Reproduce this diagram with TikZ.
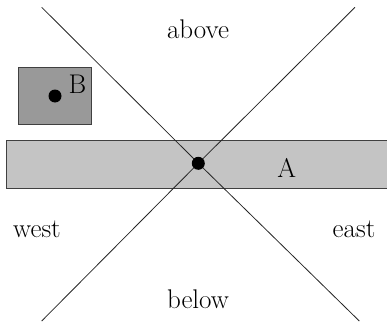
\documentclass[tikz,border=0pt]{standalone}
\begin{document}
\begin{tikzpicture}[x=10pt, y=10pt,
		lbl/.style={font=\rmfamily\fontsize{27}{29}\selectfont, inner sep=0pt},
		crossline/.style={line width=0.8pt, black!85},
		dot/.style={circle, fill=black, inner sep=0pt, minimum size=13pt}]
	\useasboundingbox (0,0) rectangle (38.7,32.2);

	% Region A
	\draw[line width=0.9pt, draw=black!75, fill=black!23] (0.67,13.37) rectangle (39.2,18.2);
	\node[lbl] (labA) at (28.67,15.45) {A};

	% Region B
	\draw[line width=0.9pt, draw=black!75, fill=black!40] (1.83,19.8) rectangle (9.17,25.43);
	\node[dot] (dotB) at (5.5,22.6) {};
	\node[lbl] (labB) at (7.75,23.75) {B};

	% Cross lines
	\coordinate (centre) at (19.83,15.87);
	\coordinate (nw) at (4.17,31.47);
	\coordinate (se) at (35.93,0.1);
	\coordinate (ne) at (35.5,31.47);
	\coordinate (sw) at (4.17,0.1);
	\draw[crossline] (nw) -- (centre) -- (se);
	\draw[crossline] (ne) -- (centre) -- (sw);
	\node[dot] (dotA) at (centre) {};

	% Directions
	\node[lbl] (above) at (19.8,29.3) {above};
	\node[lbl] (below) at (19.8,2.25) {below};
	\node[lbl] (west) at (3.7,9.25) {west};
	\node[lbl] (east) at (35.4,9.25) {east};
\end{tikzpicture}
\end{document}
